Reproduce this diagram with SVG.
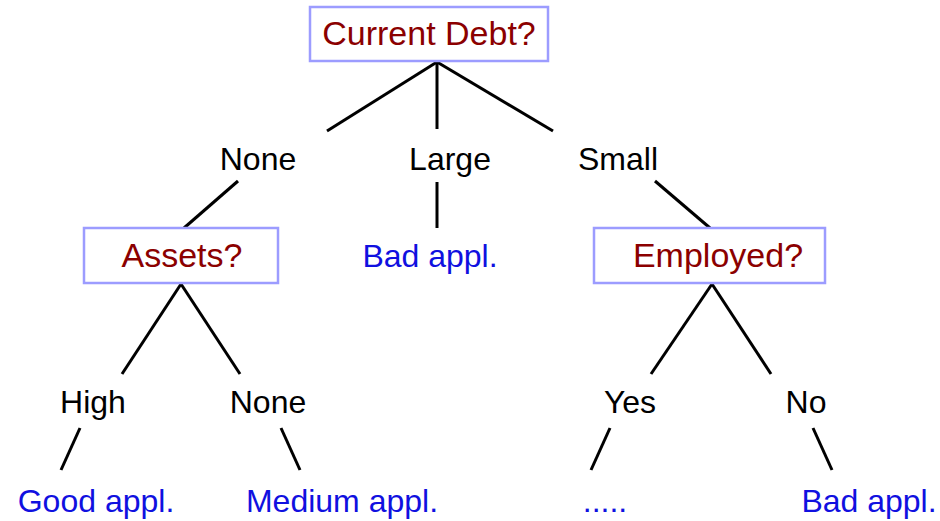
<svg xmlns="http://www.w3.org/2000/svg" width="940" height="521" viewBox="0 0 940 521">
<style>
text{font-family:"Liberation Sans",Arial,sans-serif;font-size:32px;text-anchor:middle}
.q{fill:#8b0000;font-size:34px}
.leaf{fill:#1010e0}
.lab{fill:#000}
.box{fill:#fff;stroke:#9c9cff;stroke-width:2.5}
.e{stroke:#000;stroke-width:3;fill:none}
</style>
<rect width="940" height="521" fill="#fff"/>
<g id="edges">
<line class="e" x1="437" y1="62" x2="327" y2="131"/>
<line class="e" x1="437" y1="62" x2="437" y2="129"/>
<line class="e" x1="437" y1="62" x2="553" y2="131"/>
<line class="e" x1="238" y1="181" x2="184" y2="228"/>
<line class="e" x1="437" y1="182" x2="437" y2="228"/>
<line class="e" x1="655" y1="181" x2="710" y2="228"/>
<line class="e" x1="181" y1="284" x2="122" y2="374"/>
<line class="e" x1="181" y1="284" x2="240" y2="374"/>
<line class="e" x1="712" y1="284" x2="651" y2="374"/>
<line class="e" x1="712" y1="284" x2="771" y2="374"/>
<line class="e" x1="80" y1="428" x2="61" y2="470"/>
<line class="e" x1="281" y1="428" x2="300" y2="470"/>
<line class="e" x1="610" y1="428" x2="591" y2="470"/>
<line class="e" x1="813" y1="428" x2="832" y2="470"/>
</g>
<g id="root"><rect class="box" x="310" y="7" width="238" height="54"/><text class="q" x="429" y="45">Current Debt?</text></g>
<g id="none1"><text class="lab" x="258" y="170">None</text></g>
<g id="large"><text class="lab" x="450" y="170">Large</text></g>
<g id="small"><text class="lab" x="618" y="170">Small</text></g>
<g id="assets"><rect class="box" x="84" y="228" width="194" height="55"/><text class="q" x="182" y="267">Assets?</text></g>
<g id="bad1"><text class="leaf" x="430" y="267">Bad appl.</text></g>
<g id="employed"><rect class="box" x="594" y="228" width="231" height="55"/><text class="q" x="718" y="267">Employed?</text></g>
<g id="high"><text class="lab" x="93" y="413">High</text></g>
<g id="none2"><text class="lab" x="268" y="413">None</text></g>
<g id="yes"><text class="lab" x="630" y="413">Yes</text></g>
<g id="no"><text class="lab" x="806" y="413">No</text></g>
<g id="good"><text class="leaf" x="96" y="512">Good appl.</text></g>
<g id="medium"><text class="leaf" x="342" y="512">Medium appl.</text></g>
<g id="dots"><text class="leaf" x="605" y="512">.....</text></g>
<g id="bad2"><text class="leaf" x="869" y="512">Bad appl.</text></g>
</svg>
